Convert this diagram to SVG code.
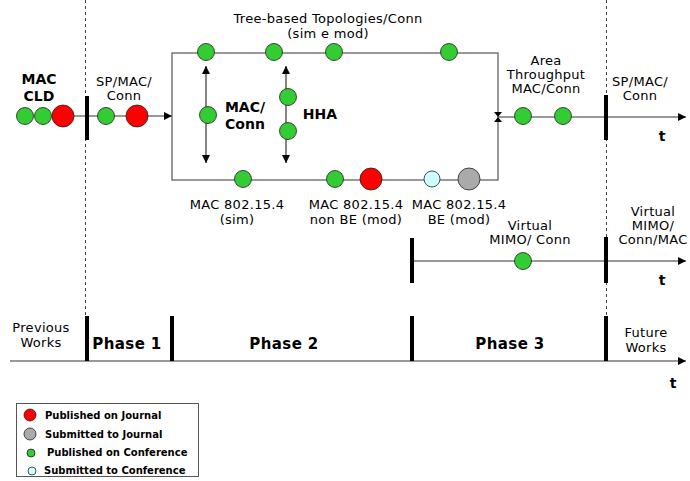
<svg xmlns="http://www.w3.org/2000/svg" width="690" height="481" viewBox="0 0 690 481">
<defs>
<marker id="arr" viewBox="0 0 10 10" refX="10" refY="5" markerWidth="8" markerHeight="8" markerUnits="userSpaceOnUse" orient="auto-start-reverse"><path d="M0,0 L10,5 L0,10 z" fill="#000"/></marker>
</defs>
<style>
text{font-family:"DejaVu Sans",Verdana,sans-serif;fill:#000}
.l{font-size:13px;letter-spacing:0.3px;text-anchor:middle}
.b{font-size:14px;font-weight:bold;text-anchor:middle}
.p{font-size:15px;font-weight:bold;text-anchor:middle;letter-spacing:0.4px}
.lg{font-size:10px;font-weight:bold}
.ln{stroke:#333;stroke-width:1.2;fill:none}
.bx{stroke:#555;stroke-width:1.2;fill:none}
.bar{stroke:#000;stroke-width:4}
.dash{stroke:#444;stroke-width:1;stroke-dasharray:3,3}
.g{fill:#33cc33;stroke:#222;stroke-width:0.8}
.r{fill:#ff0000;stroke:#222;stroke-width:0.8}
.gr{fill:#aaaaaa;stroke:#222;stroke-width:0.8}
.c{fill:#ccffff;stroke:#222;stroke-width:0.8}
</style>
<rect width="690" height="481" fill="#fff"/>
<g id="connectors">
<line class="dash" x1="85.5" y1="0" x2="85.5" y2="318"/>
<line class="dash" x1="606.5" y1="0" x2="606.5" y2="318"/>
<line class="ln" x1="70" y1="116" x2="172" y2="116" marker-end="url(#arr)"/>
<rect class="bx" x="172" y="53" width="326" height="127"/>
<line class="ln" x1="206" y1="66" x2="206" y2="163" marker-start="url(#arr)" marker-end="url(#arr)"/>
<line class="ln" x1="286" y1="66" x2="286" y2="163" marker-start="url(#arr)" marker-end="url(#arr)"/>
<path d="M494,112 L502,112 L494,122 L502,122 z" fill="#000"/>
<line class="ln" x1="498" y1="117" x2="686" y2="117" marker-end="url(#arr)"/>
<line class="ln" x1="412" y1="261" x2="686" y2="261" marker-end="url(#arr)"/>
<line class="ln" x1="10" y1="361" x2="686" y2="361" marker-end="url(#arr)"/>
<line class="bar" x1="87" y1="96" x2="87" y2="140"/>
<line class="bar" x1="606" y1="95" x2="606" y2="140"/>
<line class="bar" x1="412" y1="238" x2="412" y2="283"/>
<line class="bar" x1="606" y1="237" x2="606" y2="283"/>
<line class="bar" x1="87" y1="316" x2="87" y2="361"/>
<line class="bar" x1="172" y1="316" x2="172" y2="361"/>
<line class="bar" x1="412" y1="316" x2="412" y2="361"/>
<line class="bar" x1="606" y1="316" x2="606" y2="361"/>
</g>
<g id="mac-cld">
<circle class="g" cx="25" cy="116" r="8.5"/>
<circle class="g" cx="43" cy="116" r="8.5"/>
<circle class="r" cx="63" cy="116" r="11"/>
<text class="b" x="39" y="84">MAC</text>
<text class="b" x="39" y="101">CLD</text>
</g>
<g id="phase1-node">
<circle class="g" cx="106" cy="116" r="8.5"/>
<circle class="r" cx="137" cy="116" r="11"/>
<text class="l" x="124" y="86">SP/MAC/</text>
<text class="l" x="124" y="100">Conn</text>
</g>
<g id="tree-based">
<text class="l" x="328" y="23">Tree-based Topologies/Conn</text>
<text class="l" x="328" y="38">(sim e mod)</text>
<circle class="g" cx="206" cy="52" r="8.5"/>
<circle class="g" cx="274" cy="52" r="8.5"/>
<circle class="g" cx="334" cy="52" r="8.5"/>
<circle class="g" cx="449" cy="52" r="8.5"/>
</g>
<g id="mac-conn">
<circle class="g" cx="208" cy="115" r="8.5"/>
<text class="b" x="245" y="112">MAC/</text>
<text class="b" x="245" y="129">Conn</text>
</g>
<g id="hha">
<circle class="g" cx="288" cy="97" r="8.5"/>
<circle class="g" cx="288" cy="131" r="8.5"/>
<text class="b" x="320" y="119">HHA</text>
</g>
<g id="mac-sim">
<circle class="g" cx="243" cy="179" r="8.5"/>
<text class="l" x="237" y="209">MAC 802.15.4</text>
<text class="l" x="237" y="224">(sim)</text>
</g>
<g id="mac-nonbe">
<circle class="g" cx="335" cy="179" r="8.5"/>
<circle class="r" cx="371" cy="179" r="11"/>
<text class="l" x="356" y="209">MAC 802.15.4</text>
<text class="l" x="356" y="224">non BE (mod)</text>
</g>
<g id="mac-be">
<circle class="c" cx="432" cy="179" r="8"/>
<circle class="gr" cx="469" cy="179" r="11"/>
<text class="l" x="459" y="209">MAC 802.15.4</text>
<text class="l" x="459" y="224">BE (mod)</text>
</g>
<g id="area-throughput">
<circle class="g" cx="523" cy="116" r="8.5"/>
<circle class="g" cx="563" cy="116" r="8.5"/>
<text class="l" x="546" y="65">Area</text>
<text class="l" x="546" y="79">Throughput</text>
<text class="l" x="546" y="93">MAC/Conn</text>
</g>
<g id="future-sp">
<text class="l" x="640" y="86">SP/MAC/</text>
<text class="l" x="640" y="100">Conn</text>
<text class="b" x="662" y="141">t</text>
</g>
<g id="virtual-mimo">
<circle class="g" cx="523" cy="261" r="8.5"/>
<text class="l" x="530" y="230">Virtual</text>
<text class="l" x="530" y="244">MIMO/ Conn</text>
</g>
<g id="future-vmimo">
<text class="l" x="653" y="216">Virtual</text>
<text class="l" x="653" y="230">MIMO/</text>
<text class="l" x="653" y="244">Conn/MAC</text>
<text class="b" x="662" y="285">t</text>
</g>
<g id="phases">
<text class="l" x="41" y="332">Previous</text>
<text class="l" x="41" y="347">Works</text>
<text class="p" x="127" y="349">Phase 1</text>
<text class="p" x="284" y="349">Phase 2</text>
<text class="p" x="510" y="349">Phase 3</text>
<text class="l" x="646" y="337">Future</text>
<text class="l" x="646" y="352">Works</text>
<text class="b" x="673" y="388">t</text>
</g>
<g id="legend">
<rect x="16.5" y="403.5" width="182" height="73" fill="#fff" stroke="#555" stroke-width="1"/>
<circle class="r" cx="30" cy="415" r="6"/>
<circle class="gr" cx="30" cy="434" r="6"/>
<circle class="g" cx="31" cy="453" r="4"/>
<circle class="c" cx="32" cy="471" r="4"/>
<text class="lg" x="45" y="419">Published on Journal</text>
<text class="lg" x="45" y="438">Submitted to Journal</text>
<text class="lg" x="47" y="456">Published on Conference</text>
<text class="lg" x="44" y="474">Submitted to Conference</text>
</g>
</svg>
